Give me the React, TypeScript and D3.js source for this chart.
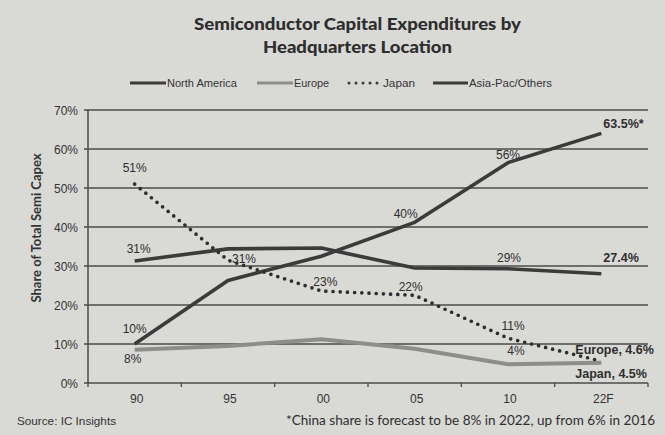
import React from "react";
import * as d3 from "d3";

const categories = ["90", "95", "00", "05", "10", "22F"];
const northAmerica = [31.3, 34.4, 34.6, 29.5, 29.3, 28.0];
const europe = [8.5, 9.5, 11.2, 8.8, 4.8, 5.2];
const japan = [51, 31.5, 23.6, 22.5, 11.5, 5.6];
const asiaPac = [10, 26.3, 32.5, 41.2, 56.5, 64.0];
const yTicks = [0, 10, 20, 30, 40, 50, 60, 70];

const labelText = [
  "51%", "31%", "10%", "8%", "31%", "23%", "40%", "22%",
  "56%", "63.5%*", "29%", "27.4%", "11%", "4%", "Europe, 4.6%", "Japan, 4.5%",
];

const W = 665, H = 435;
const BG = "#d9d9d6";
const DARK = "#3b3b3b";
const GREY = "#8d8d8b";

export default function App() {
  const x = d3.scaleBand<string>().domain(categories).range([88, 648]).padding(0);
  const y = d3.scaleLinear().domain([0, 70]).range([383, 110]);
  const cx = (c: string) => (x(c) as number) + x.bandwidth() / 2;
  const line = (vals: number[]) =>
    d3.line<number>().x((_, i) => cx(categories[i])).y((v) => y(v))(vals) as string;

  const bounds = [...categories.map((c) => x(c) as number), 648];

  // label placements: [category index, value anchor, dx, dy, anchor, bold]
  const place: [number, number, number, number, string, boolean][] = [
    [0, 51, 0, -12, "middle", false],
    [0, 31.3, 4, -8, "middle", false],
    [0, 10, 0, -11, "middle", false],
    [0, 8.5, -2, 13, "middle", false],
    [1, 31.5, 16, 3, "middle", false],
    [2, 23.6, 4, -5, "middle", false],
    [3, 41.2, -9, -4, "middle", false],
    [3, 22.5, -4, -4, "middle", false],
    [4, 56.5, 0, -4, "middle", false],
    [5, 64, 2, -5, "start", true],
    [4, 29.3, 1, -7, "middle", false],
    [5, 28, 2, -12, "start", true],
    [4, 11.5, 5, -8, "middle", false],
    [4, 4.8, 8, -9, "middle", false],
    [5, 5.2, -26, -9, "start", true],
    [5, 5.2, -26, 15, "start", true],
  ];

  return (
    <svg width={W} height={H} style={{ position: "absolute", left: 0, top: 0, background: BG }}>
      <rect x={0} y={0} width={W} height={H} fill={BG} />
      <text x={357.5} y={30} textAnchor="middle" fontFamily="Lato" fontWeight={900} fontSize={17}
        fill="#2e2e2e" textLength={327} lengthAdjust="spacingAndGlyphs">
        Semiconductor Capital Expenditures by
      </text>
      <text x={357.5} y={53} textAnchor="middle" fontFamily="Lato" fontWeight={900} fontSize={17}
        fill="#2e2e2e" textLength={189} lengthAdjust="spacingAndGlyphs">
        Headquarters Location
      </text>

      {/* legend */}
      <g fontFamily="Liberation Sans, Arial" fontSize={10} fill="#333">
        <line x1={130} x2={166} y1={83} y2={83} stroke={DARK} strokeWidth={3} />
        <text x={167} y={87} textLength={70} lengthAdjust="spacingAndGlyphs">North America</text>
        <line x1={257} x2={293} y1={83} y2={83} stroke={GREY} strokeWidth={3} />
        <text x={294} y={87} textLength={35} lengthAdjust="spacingAndGlyphs">Europe</text>
        <line x1={349} x2={380} y1={83} y2={83} stroke={DARK} strokeWidth={3}
          strokeDasharray="0 7" strokeLinecap="round" />
        <text x={383} y={87} textLength={32} lengthAdjust="spacingAndGlyphs">Japan</text>
        <line x1={433} x2={468} y1={83} y2={83} stroke={DARK} strokeWidth={3} />
        <text x={469} y={87} textLength={83} lengthAdjust="spacingAndGlyphs">Asia-Pac/Others</text>
      </g>

      {/* grid + axes */}
      {yTicks.map((t) => (
        <g key={t}>
          {t > 0 && (
            <line x1={84} x2={648} y1={y(t)} y2={y(t)} stroke="#4a4a4a" strokeWidth={1.3} />
          )}
          <text x={78} y={y(t) + 4.5} textAnchor="end" fontFamily="Liberation Sans, Arial"
            fontSize={12} fill="#333">{t}%</text>
        </g>
      ))}
      <line x1={88} x2={88} y1={110} y2={384} stroke="#4a4a4a" strokeWidth={1.5} />
      <line x1={84} x2={648} y1={383} y2={383} stroke="#4a4a4a" strokeWidth={1.6} />
      {bounds.map((b, i) => (
        <line key={i} x1={b} x2={b} y1={383} y2={387} stroke="#4a4a4a" strokeWidth={1.3} />
      ))}
      {categories.map((c) => (
        <text key={c} x={cx(c) + 2} y={403} textAnchor="middle" fontFamily="Liberation Sans, Arial"
          fontSize={12} fill="#333">{c}</text>
      ))}
      <text transform="translate(41,228) rotate(-90)" textAnchor="middle" fontFamily="Lato"
        fontWeight={700} fontSize={13} fill="#333" textLength={149} lengthAdjust="spacingAndGlyphs">
        Share of Total Semi Capex
      </text>

      {/* series */}
      <path d={line(europe)} fill="none" stroke={GREY} strokeWidth={4} strokeLinejoin="round" />
      <path d={line(northAmerica)} fill="none" stroke={DARK} strokeWidth={3.6} strokeLinejoin="round" />
      <path d={line(asiaPac)} fill="none" stroke={DARK} strokeWidth={3.6} strokeLinejoin="round" />
      <path d={line(japan)} fill="none" stroke="#2e2e2e" strokeWidth={3.7} strokeDasharray="0 7.2"
        strokeLinecap="round" />

      {/* data labels */}
      {place.map(([ci, v, dx, dy, anchor, bold], i) => (
        <text key={i} x={cx(categories[ci]) + dx} y={y(v) + dy} textAnchor={anchor as any}
          fontFamily="Liberation Sans, Arial" fontSize={bold ? 12.5 : 12}
          fontWeight={bold ? 700 : 400} fill="#2e2e2e">
          {labelText[i]}
        </text>
      ))}

      <text x={17} y={425} fontFamily="Liberation Sans, Arial" fontSize={11.8} fill="#333"
        textLength={99} lengthAdjust="spacingAndGlyphs">Source:  IC Insights</text>
      <text x={286} y={425} fontFamily="Lato" fontSize={13.5} fill="#2e2e2e"
        textLength={369} lengthAdjust="spacingAndGlyphs">
        *China share is forecast to be 8% in 2022, up from 6% in 2016
      </text>
    </svg>
  );
}
